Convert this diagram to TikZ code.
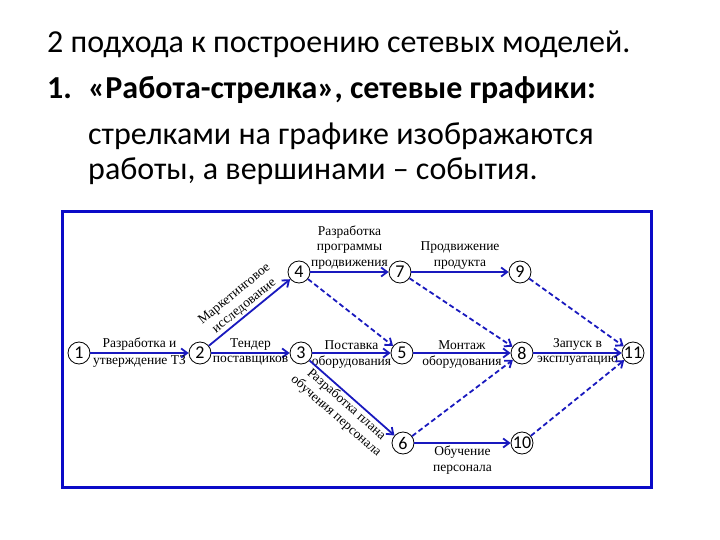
\documentclass[tikz,border=0pt]{standalone}
\usepackage{fontspec}
\setmainfont{Liberation Serif}
\newfontfamily\slidefont{Carlito}
\usetikzlibrary{arrows.meta}
\definecolor{framebl}{RGB}{10,10,200}
\definecolor{edgebl}{RGB}{25,25,190}
\tikzset{
  ev/.style={circle,draw,thick,inner sep=0pt,minimum size=22pt,
    font=\slidefont\fontsize{18}{18}\selectfont},
  job/.style={edgebl,line width=1.8pt,-{Straight Barb[length=6pt,width=9pt]}},
  dummy/.style={job,dash pattern=on 5pt off 3pt},
  lbl/.style={text=black,font=\fontsize{13.5}{15.5}\selectfont,align=center,inner sep=2pt},
  head/.style={anchor=base west,inner sep=0pt,font=\slidefont\fontsize{32}{32}\selectfont}
}
\begin{document}
\begin{tikzpicture}[x=1pt,y=-1pt]
    \useasboundingbox (0,0) rectangle (720,540);
    % header
    \node[head] (t1) at (47,53) {2 подхода к построению сетевых моделей.};
    \node[head] (t2) at (47,99) {\bfseries 1.};
    \node[head] (t3) at (88,99) {\bfseries «Работа-стрелка», сетевые графики:};
    \node[head] (t4) at (88,145) {стрелками на графике изображаются};
    \node[head] (t5) at (88,180) {работы, а вершинами – события.};
    \draw[framebl,line width=3pt] (62,212) rectangle (651,487);
    % events
    \foreach \i/\x/\y in {1/79/353,2/200/353,3/301/353,4/299/272,5/402/353,
      6/403/443,7/400/272,8/522/353,9/520/272,10/522/443,11/633/353}
      \node[ev] (v\i) at (\x,\y) {\i};
    % jobs
    \draw[job] (v1) -- node[lbl,above]{Разработка и} node[lbl,below]{утверждение ТЗ} (v2);
    \draw[job] (v2) -- node[lbl,above]{Тендер} node[lbl,below]{поставщиков} (v3);
    \draw[job] (v2) -- node[lbl,above,sloped,inner sep=1.5pt]{Маркетинговое\\исследование} (v4);
    \draw[job] (v4) -- node[lbl,above]{Разработка\\программы\\продвижения} (v7);
    \draw[job] (v7) -- node[lbl,above]{Продвижение\\продукта} (v9);
    \draw[job] (v3) -- node[lbl,above]{Поставка} node[lbl,below]{оборудования} (v5);
    \draw[job] (v5) -- node[lbl,above]{Монтаж} node[lbl,below]{оборудования} (v8);
    \draw[job] (v8) -- node[lbl,above]{Запуск в} node[lbl,below]{эксплуатацию} (v11);
    \draw[job] (v3) -- node[lbl,below,sloped,inner sep=1.5pt]{Разработка плана\\обучения персонала} (v6);
    \draw[job] (v6) -- node[lbl,below]{Обучение\\персонала} (v10);
    % dummy jobs
    \foreach \a/\b in {4/5,7/8,6/8,9/11,10/11}
      \draw[dummy] (v\a) -- (v\b);
  \end{tikzpicture}
\end{document}
